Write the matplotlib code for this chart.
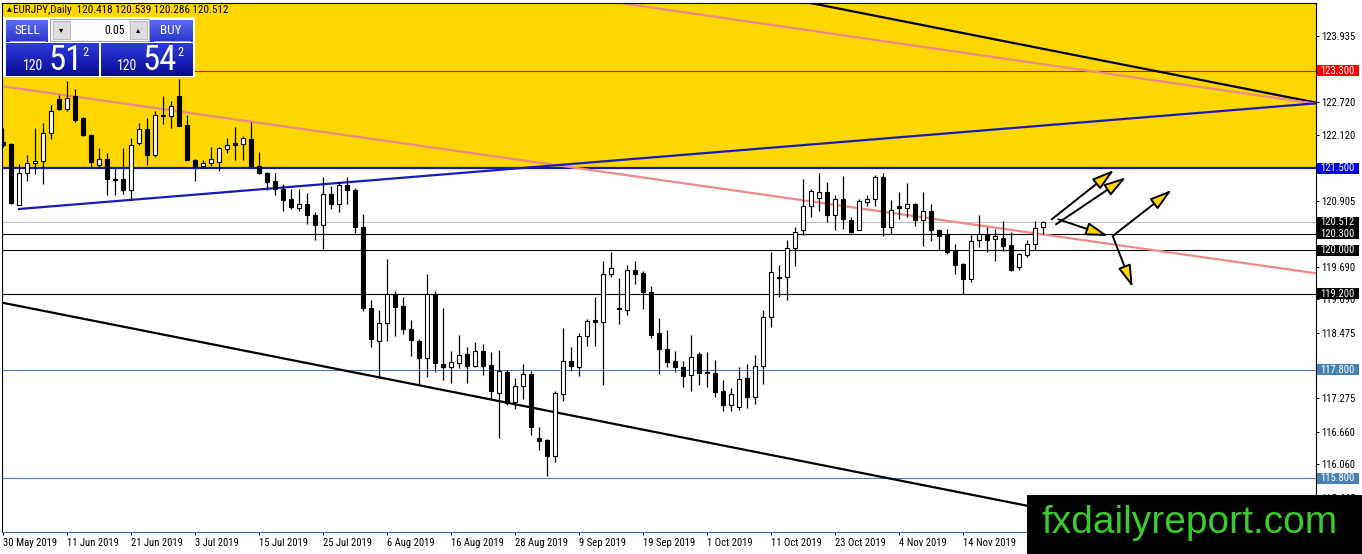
import numpy as np
import matplotlib
matplotlib.use("Agg")
import matplotlib.pyplot as plt
import matplotlib.colors as mcolors
import matplotlib.transforms as mtransforms
from matplotlib import font_manager
from matplotlib.patches import Rectangle, FancyArrowPatch

# EURJPY daily bars, first bar = 30 May 2019
opens = [121.99, 121.95, 120.82, 121.42, 121.61, 121.63, 122.15, 122.78, 122.59, 122.83,
         122.43, 122.12, 121.56, 121.68, 121.31, 121.30, 121.10, 121.97, 122.23, 121.74,
         122.48, 122.47, 122.83, 122.30, 121.66, 121.54, 121.60, 121.62, 121.85, 121.96,
         121.95, 122.05, 121.55, 121.42, 121.27, 121.12, 120.93, 120.78, 120.85, 120.65,
         120.46, 121.03, 120.85, 121.19, 121.11, 120.43, 118.94, 118.33, 118.65, 119.19,
         118.97, 118.54, 118.33, 118.02, 119.20, 117.90, 117.84, 117.92, 118.09, 117.86,
         118.14, 117.89, 117.37, 117.76, 117.20, 117.50, 117.72, 116.55, 116.51, 116.21,
         117.35, 117.95, 117.84, 118.41, 118.71, 118.67, 119.55, 118.93, 118.90, 119.63,
         119.57, 119.23, 118.47, 118.18, 117.95, 117.84, 117.70, 118.09, 117.75, 117.74,
         117.40, 117.15, 117.11, 117.64, 117.29, 117.86, 118.77, 119.51, 119.50, 120.04,
         120.36, 120.81, 120.95, 121.07, 120.64, 120.93, 120.55, 120.37, 120.89, 120.93,
         121.34, 120.42, 120.81, 120.77, 120.85, 120.55, 120.72, 120.36, 120.28, 119.98,
         119.74, 119.47, 120.19, 120.29, 120.20, 120.22, 120.09, 119.69, 119.91, 120.11,
         120.418]
highs = [122.24, 121.97, 121.58, 121.74, 122.24, 122.33, 122.66, 122.86, 123.11, 122.96,
         122.44, 122.13, 121.88, 121.78, 121.53, 121.88, 122.06, 122.33, 122.42, 122.56,
         122.83, 122.74, 123.14, 122.49, 121.67, 121.65, 121.89, 121.90, 122.06, 122.27,
         122.09, 122.36, 121.80, 121.43, 121.42, 121.21, 121.12, 121.12, 121.05, 120.70,
         121.34, 121.17, 121.25, 121.35, 121.14, 120.67, 119.08, 118.89, 119.83, 119.25,
         119.14, 118.71, 118.37, 119.55, 119.25, 118.94, 118.14, 118.44, 118.22, 118.30,
         118.27, 118.13, 118.16, 117.79, 117.64, 117.90, 117.78, 116.74, 116.52, 117.40,
         118.57, 118.22, 118.47, 118.73, 119.14, 119.79, 119.97, 119.48, 119.73, 119.79,
         119.61, 119.34, 118.75, 118.52, 118.15, 117.95, 118.44, 118.12, 118.13, 117.97,
         117.60, 117.46, 117.84, 117.90, 118.06, 118.90, 119.96, 119.73, 120.19, 120.43,
         121.30, 121.12, 121.42, 121.25, 121.01, 121.36, 120.60, 120.93, 121.02, 121.38,
         121.42, 120.92, 121.06, 121.24, 120.87, 121.06, 120.85, 120.39, 120.39, 120.12,
         119.76, 120.28, 120.65, 120.42, 120.39, 120.53, 120.33, 119.94, 120.19, 120.54,
         120.539]
lows = [121.90, 120.84, 120.82, 121.27, 121.39, 121.22, 122.05, 122.58, 122.56, 122.36,
        122.09, 121.53, 121.52, 121.02, 121.02, 121.04, 120.92, 121.94, 121.57, 121.71,
        122.32, 122.24, 122.28, 121.65, 121.27, 121.51, 121.55, 121.46, 121.78, 121.65,
        121.65, 121.54, 121.39, 121.10, 121.02, 120.72, 120.75, 120.72, 120.48, 120.18,
        120.01, 120.76, 120.70, 120.85, 120.31, 118.88, 118.22, 117.64, 118.33, 118.41,
        118.45, 118.05, 117.52, 117.66, 117.75, 117.60, 117.55, 117.83, 117.55, 117.85,
        117.70, 117.25, 116.54, 117.15, 117.07, 117.25, 116.59, 116.32, 115.85, 116.10,
        117.22, 117.78, 117.69, 118.24, 118.24, 117.51, 119.51, 118.64, 118.81, 119.38,
        118.92, 118.38, 117.72, 117.84, 117.75, 117.48, 117.41, 117.51, 117.48, 117.29,
        117.03, 117.03, 117.06, 117.09, 117.17, 117.54, 118.59, 119.14, 119.08, 119.70,
        120.28, 120.61, 120.72, 120.52, 120.36, 120.39, 120.31, 120.36, 120.81, 120.81,
        120.25, 120.29, 120.57, 120.60, 120.45, 120.08, 120.17, 120.00, 119.92, 119.56,
        119.20, 119.41, 120.05, 119.96, 119.80, 119.99, 119.61, 119.63, 119.87, 120.00,
        120.286]
closes = [121.93, 120.87, 121.42, 121.60, 121.63, 122.15, 122.56, 122.59, 122.80, 122.40,
          122.11, 121.62, 121.68, 121.30, 121.29, 121.10, 121.94, 122.22, 121.74, 122.49,
          122.46, 122.65, 122.29, 121.66, 121.53, 121.60, 121.68, 121.88, 121.93, 121.94,
          122.06, 121.55, 121.41, 121.26, 121.13, 120.92, 120.80, 120.85, 120.65, 120.46,
          121.03, 120.85, 121.19, 121.11, 120.42, 118.94, 118.36, 118.65, 119.19, 118.96,
          118.54, 118.34, 118.02, 119.20, 117.92, 117.84, 117.94, 118.07, 117.86, 118.14,
          117.87, 117.40, 117.78, 117.18, 117.50, 117.72, 116.74, 116.48, 116.21, 117.37,
          117.95, 117.86, 118.41, 118.70, 118.67, 119.55, 119.67, 118.91, 119.63, 119.56,
          119.22, 118.44, 118.18, 117.94, 117.84, 117.69, 118.03, 117.73, 117.73, 117.38,
          117.15, 117.35, 117.63, 117.29, 117.86, 118.77, 119.60, 119.49, 120.04, 120.34,
          120.81, 121.09, 121.07, 120.64, 120.93, 120.57, 120.34, 120.90, 120.93, 121.34,
          120.42, 120.73, 120.77, 120.84, 120.55, 120.72, 120.36, 120.26, 119.96, 119.72,
          119.47, 120.17, 120.29, 120.19, 120.25, 120.08, 119.64, 119.92, 120.11, 120.40,
          120.512]

date_labels = ["30 May 2019", "11 Jun 2019", "21 Jun 2019", "3 Jul 2019", "15 Jul 2019",
               "25 Jul 2019", "6 Aug 2019", "16 Aug 2019", "28 Aug 2019", "9 Sep 2019",
               "19 Sep 2019", "1 Oct 2019", "11 Oct 2019", "23 Oct 2019", "4 Nov 2019",
               "14 Nov 2019"]
label_step = 8

price_ticks = [123.935, 123.325, 122.720, 122.120, 121.510, 120.905, 120.300, 119.690,
               119.090, 118.475, 117.880, 117.275, 116.660, 116.060, 115.445]

red_levels = [123.300]
blue_levels = [121.500]
bid_level = 120.512
black_levels = [120.300, 120.000, 119.200]
steel_levels = [117.800, 115.800]
zone_bottom = 121.53

# drawn objects, (bar, price) end points
channel_top = [(98.0, 124.63), (164.2, 122.71)]
channel_bottom = [(-0.4, 119.04), (164.2, 114.24)]
pink_upper = [(75.0, 124.59), (164.2, 122.69)]
pink_lower = [(-0.4, 123.02), (164.2, 119.57)]
blue_rising = [(2.0, 120.755), (164.2, 122.70)]
arrows = [((131.09, 120.565), (138.88, 121.473)),
          ((131.63, 120.473), (140.38, 121.338)),
          ((131.91, 120.565), (138.16, 120.258)),
          ((138.71, 120.258), (146.09, 121.105)),
          ((138.71, 120.258), (141.21, 119.314))]

title = "EURJPY,Daily  120.418 120.539 120.286 120.512"
lot_size = "0.05"
bid_parts = ("120", "51", "2")
ask_parts = ("120", "54", "2")
site = "fxdailyreport.com"

names = {f.name for f in font_manager.fontManager.ttflist}
ui_font = next((n for n in ["Liberation Sans Narrow", "Roboto Condensed"] if n in names),
               "Liberation Sans")
plt.rcParams["font.family"] = [ui_font, "DejaVu Sans"]

W, H = 1362, 554
fig = plt.figure(figsize=(W / 100, H / 100), dpi=100)
ax = fig.add_axes([2 / W, 22 / H, 1314 / W, 529 / H])

o = np.array(opens)
h = np.array(highs)
l = np.array(lows)
c = np.array(closes)
idx = np.arange(len(o))
up = c >= o

ax.axhspan(zone_bottom, 126, color="#FFD700", lw=0, zorder=0.5)
for v in red_levels:
    ax.axhline(v, color="#FF0000", lw=0.8, zorder=1.5)
for v in blue_levels:
    ax.axhline(v, color="#1414B8", lw=1.6, zorder=1.5)
ax.axhline(bid_level, color="#C0C0C0", lw=0.8, zorder=1.5)
for v in black_levels:
    ax.axhline(v, color="black", lw=0.8, zorder=1.5)
for v in steel_levels:
    ax.axhline(v, color="#4F7DAA", lw=0.8, zorder=1.5)

for pts, col in [(channel_top, "black"), (channel_bottom, "black"),
                 (pink_upper, "#F08A8A"), (pink_lower, "#F08A8A"),
                 (blue_rising, "#1A1AB4")]:
    xs, ys = zip(*pts)
    ax.plot(xs, ys, color=col, lw=1.6, zorder=2)

ax.vlines(idx, l, h, color="black", lw=0.9, zorder=3)
ax.bar(idx, np.abs(c - o), bottom=np.minimum(o, c), width=0.62,
       color=np.where(up, "white", "black"), edgecolor="black", linewidth=0.8, zorder=4)

for a, b in arrows:
    ax.add_patch(FancyArrowPatch(a, b, arrowstyle="-|>,head_length=1.35,head_width=0.4",
                                 mutation_scale=10, lw=1.4, edgecolor="black",
                                 facecolor="#FFD700", shrinkA=0, shrinkB=0, zorder=6))

ax.set_xlim(-0.125, 164.125)
ax.set_ylim(114.812, 124.545)

ax.set_xticks(idx[::label_step][:len(date_labels)])
ax.set_xticklabels(date_labels)
for t in ax.get_xticklabels():
    t.set_ha("left")

boxes = [(v, "#FF0000") for v in red_levels] + [(v, "#0000F0") for v in blue_levels] + \
        [(bid_level, "black")] + [(v, "black") for v in black_levels] + \
        [(v, "#4682B4") for v in steel_levels]

# scale labels that sit under a level box are hidden on the terminal
ax.yaxis.tick_right()
ax.set_yticks(price_ticks)
ax.set_yticklabels(["" if any(abs(v - b) < 0.09 for b, _ in boxes) else f"{v:.3f}"
                    for v in price_ticks])
ax.tick_params(axis="both", length=2.5, width=0.7, pad=1.5, labelsize=7.7)
for s in ax.spines.values():
    s.set_linewidth(0.8)
ax.spines["bottom"].set_color("#3C6A9A")

trans = mtransforms.blended_transform_factory(ax.transAxes, ax.transData)
bw = 42 / 1314
bh = 11 * (124.545 - 114.812) / 529
for v, col in boxes:
    ax.add_patch(Rectangle((1 + 1 / 1314, v - bh / 2), bw, bh, transform=trans,
                           facecolor=col, edgecolor="none", clip_on=False, zorder=10))
    ax.text(1 + 4 / 1314, v, f"{v:.3f}", transform=trans, color="white", fontsize=7.7,
            ha="left", va="center", clip_on=False, zorder=11)

# overlay in pixel units for the trade panel, title and site stamp
ov = fig.add_axes([0, 0, 1, 1])
ov.set_zorder(20)
ov.axis("off")


def grad_rect(x0, y0, x1, y1, top, bottom):
    t = np.linspace(0, 1, 32)[:, None]
    img = np.array(mcolors.to_rgb(top)) * (1 - t) + np.array(mcolors.to_rgb(bottom)) * t
    ov.imshow(img[:, None, :], extent=(x0, x1, y1, y0), aspect="auto",
              interpolation="bilinear", zorder=2)


ov.text(7, 10, "\u25b2", fontsize=4.5, va="center", ha="left", family=["DejaVu Sans"])
ov.text(13, 10, title, fontsize=8, va="center", ha="left")

ov.add_patch(Rectangle((3, 17), 192, 60, facecolor="white", edgecolor="none", zorder=1))
grad_rect(6, 20, 48, 42, "#5A6CF0", "#2A36CE")
grad_rect(150, 20, 193, 42, "#5A6CF0", "#2A36CE")
grad_rect(6, 43, 99, 76, "#2C3CDA", "#080C96")
grad_rect(101, 43, 193, 76, "#2C3CDA", "#080C96")
ov.plot([10, 45], [41, 41], color="#A8B0F4", lw=0.7, zorder=3)
ov.plot([154, 190], [41, 41], color="#A8B0F4", lw=0.7, zorder=3)
ov.add_patch(Rectangle((50, 19), 99, 22, facecolor="#EEEEEE", edgecolor="#A8A8A8",
                       lw=0.7, zorder=2))
ov.add_patch(Rectangle((53, 21), 17, 18, facecolor="#DCDCDC", edgecolor="#B8B8B8",
                       lw=0.6, zorder=3))
ov.add_patch(Rectangle((71, 20), 58, 20, facecolor="white", edgecolor="none", zorder=3))
ov.add_patch(Rectangle((130, 21), 17, 18, facecolor="#DCDCDC", edgecolor="#B8B8B8",
                       lw=0.6, zorder=3))
ov.text(61.5, 30, "\u25be", fontsize=6, ha="center", va="center", zorder=4,
        family=["DejaVu Sans"])
ov.text(138.5, 30, "\u25b4", fontsize=6, ha="center", va="center", zorder=4,
        family=["DejaVu Sans"])
ov.text(125, 30, lot_size, fontsize=8.5, ha="right", va="center", zorder=4)
ov.text(27, 31, "SELL", color="white", fontsize=9.5, ha="center", va="center", zorder=4)
ov.text(171, 31, "BUY", color="white", fontsize=9.5, ha="center", va="center", zorder=4)
for x0, parts in [(22.7, bid_parts), (117.3, ask_parts)]:
    ov.text(x0, 70.5, parts[0], color="white", fontsize=10, ha="left", va="baseline", zorder=4)
    ov.text(x0 + 25.5, 70.5, parts[1], color="white", fontsize=25, ha="left",
            va="baseline", zorder=4)
    ov.text(x0 + 60, 45.5, parts[2], color="white", fontsize=9, ha="left", va="top",
            zorder=4)

ov.add_patch(Rectangle((1027, 495), 335, 59, facecolor="black", edgecolor="none", zorder=5))
ov.text(1042, 533, site, color="#3CCB2E", fontsize=28, ha="left", va="baseline",
        family=["Liberation Sans", "DejaVu Sans"], zorder=6)

ov.set_xlim(0, W)
ov.set_ylim(H, 0)

fig.savefig("out.png", dpi=100)
